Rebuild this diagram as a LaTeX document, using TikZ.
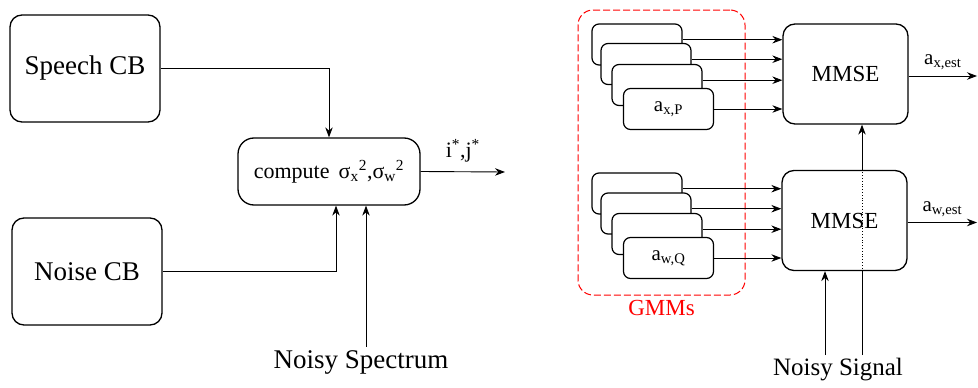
\documentclass[tikz,border=0pt]{standalone}
\usepackage{fontspec}
\setmainfont{Liberation Serif}
\usetikzlibrary{positioning, arrows.meta}

\begin{document}
\begin{tikzpicture}[x=1pt, y=-1pt, >={Stealth[length=10pt, width=7.5pt]},
    block/.style={draw, rounded corners=12pt, line width=1.3pt, fill=white,
                  minimum width=150pt, minimum height=107pt,
                  font=\fontsize{27}{30}\selectfont},
    gmmbox/.style={draw, rounded corners=7pt, line width=1.2pt, fill=white,
                   minimum width=90pt, minimum height=41pt,
                   font=\fontsize{21}{24}\selectfont},
    mmse/.style={draw, rounded corners=12pt, line width=1.3pt,
                 minimum width=125pt, minimum height=100pt,
                 font=\fontsize{23}{26}\selectfont},
    link/.style={->, line width=0.9pt}]
    \useasboundingbox (0,0) rectangle (978,388);

    % codebook search
    \node[block] (speech) at (85,68.5) {Speech CB};
    \node[block] (noise) at (87,271.5) {Noise CB};
    \node[block, rounded corners=16pt, minimum width=182pt, minimum height=67pt,
          font=\fontsize{22}{24}\selectfont] (comp) at (329,171.5)
          {compute\, σ\textsubscript{x}\textsuperscript{2},σ\textsubscript{w}\textsuperscript{2}};
    \node[font=\fontsize{27}{30}\selectfont] (spec) at (361,362) {Noisy Spectrum};
    \coordinate (specin) at ([xshift=5pt]spec.north);
    \coordinate (ij) at (505,172);
    \draw[link] (speech.east) -| (comp.north);
    \draw[link] (noise.east) -| ([xshift=7pt]comp.south);
    \draw[link] (specin) -- (specin |- comp.south);
    \draw[link] (comp.east) -- node[above=6pt, font=\fontsize{22}{24}\selectfont]
          {i\textsuperscript{*},j\textsuperscript{*}} (ij);

    % GMM based estimation
    \node[draw=red, line width=1pt, dash pattern=on 7pt off 3pt, rounded corners=15pt,
          minimum width=167pt, minimum height=285pt] (gmm) at (661.5,152.5) {};
    \node[below=1pt of gmm, text=red, font=\fontsize{23}{26}\selectfont] (gmmlbl) {GMMs};

    \node[gmmbox] (gx1) at (637,44.5) {};
    \node[gmmbox] (gx2) at (646,64) {};
    \node[gmmbox] (gx3) at (657,85) {};
    \node[gmmbox] (gx4) at (668.5,109) {a\textsubscript{x,P}};
    \node[gmmbox] (gw1) at (637,193.5) {};
    \node[gmmbox] (gw2) at (646,213.5) {};
    \node[gmmbox] (gw3) at (657,234) {};
    \node[gmmbox] (gw4) at (668.5,258) {a\textsubscript{w,Q}};

    \node[mmse] (mmsex) at (845.5,74) {MMSE};
    \node[mmse] (mmsew) at (844.5,220.5) {MMSE};

    \draw[link] (gx1.6) -- (gx1.6 -| mmsex.west);
    \draw[link] (gx2.6) -- (gx2.6 -| mmsex.west);
    \draw[link] (gx3.6) -- (gx3.6 -| mmsex.west);
    \draw[link] (gx4.east) -- (gx4.east -| mmsex.west);
    \draw[link] (gw1.6) -- (gw1.6 -| mmsew.west);
    \draw[link] (gw2.6) -- (gw2.6 -| mmsew.west);
    \draw[link] (gw3.6) -- (gw3.6 -| mmsew.west);
    \draw[link] (gw4.east) -- (gw4.east -| mmsew.west);

    \coordinate (xest) at (977,76);
    \coordinate (west) at (977,222.5);
    \draw[link] (mmsex.east |- xest) -- node[above=2pt, font=\fontsize{21}{24}\selectfont]
          {a\textsubscript{x,est}} (xest);
    \draw[link] (mmsew.east |- west) -- node[above=2pt, font=\fontsize{21}{24}\selectfont]
          {a\textsubscript{w,est}} (west);

    \node[font=\fontsize{25}{28}\selectfont] (sig) at (838,370) {Noisy Signal};
    \coordinate (sigin) at ([xshift=-13pt]sig.north);
    \coordinate (sigup) at ([xshift=24pt]sig.north);
    \draw[link] (sigin) -- (sigin |- mmsew.south);
    \draw[line width=0.9pt] (sigup) -- (sigup |- mmsew.south);
    \draw[dotted, line width=0.8pt] (sigup |- mmsew.south) -- (sigup |- mmsew.north);
    \draw[link] (sigup |- mmsew.north) -- (sigup |- mmsex.south);
\end{tikzpicture}
\end{document}
